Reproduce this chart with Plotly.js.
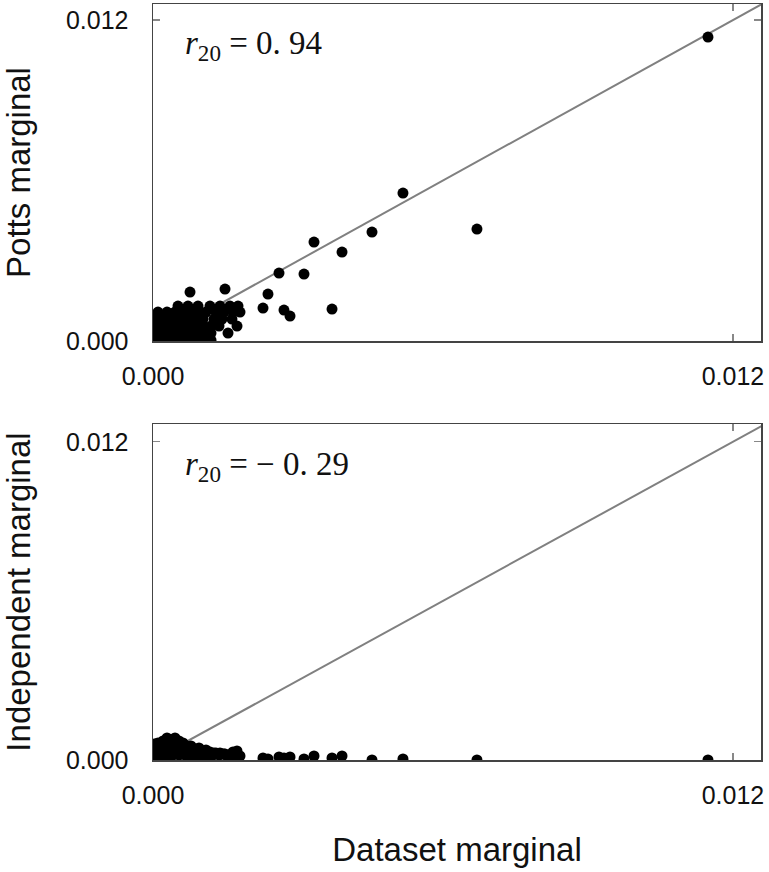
<!DOCTYPE html>
<html>
<head>
<meta charset="utf-8">
<script src="https://cdn.plot.ly/plotly-3.0.1.min.js"></script>
<style>html,body{margin:0;padding:0;background:#fff;}#chart{width:769px;height:872px;}</style>
</head>
<body>
<div id="chart"></div>
<script>
// Dataset marginal (shared x for both panels)
const datasetMarginal = [
  0.000041,0.000207,0.000372,0.000538,0.000703,0.000869,0.001035,0.001200,
  0.000041,0.000207,0.000372,0.000538,0.000703,0.000869,0.001035,0.001200,0.001552,
  0.000041,0.000207,0.000372,0.000538,0.000703,0.000869,0.001035,0.001200,0.001366,0.001738,
  0.000041,0.000207,0.000372,0.000538,0.000703,0.000869,0.001035,0.001262,0.001428,0.001634,
  0.000103,0.000290,0.000455,0.000621,0.000786,0.000952,0.001097,0.001303,0.001469,0.001655,0.001800,
  0.000517,0.000724,0.000931,0.001179,0.001386,0.001593,0.001759,
  0.000041,
  0.000766,0.001490,0.002276,0.002379,0.002607,0.002710,0.002835,0.003124,0.003331,
  0.003704,0.003911,0.004531,0.005172,0.006703,0.011483
];
// Potts model marginal
const pottsMarginal = [
  0.000037,0.000037,0.000037,0.000037,0.000037,0.000037,0.000037,0.000037,
  0.000299,0.000299,0.000299,0.000299,0.000299,0.000299,0.000299,0.000299,0.000299,
  0.000561,0.000561,0.000561,0.000561,0.000561,0.000561,0.000561,0.000561,0.000561,0.000561,
  0.000822,0.000822,0.000822,0.000822,0.000822,0.000822,0.000822,0.000822,0.000822,0.000822,
  0.001084,0.001084,0.001084,0.001084,0.001084,0.001084,0.001084,0.001084,0.001084,0.001084,0.001084,
  0.001308,0.001308,0.001308,0.001308,0.001308,0.001308,0.001308,
  0.000935,
  0.001832,0.001944,0.001234,0.001757,0.002542,0.001159,0.000935,0.002504,0.003701,
  0.001196,0.003327,0.004074,0.005532,0.004187,0.011364
];
// Independent model marginal
const independentMarginal = [
  0.000075,0.000151,0.000113,0.000189,0.000113,0.000151,0.000075,0.000113,
  0.000302,0.000377,0.000302,0.000377,0.000302,0.000226,0.000151,0.000189,0.000113,
  0.000452,0.000528,0.000566,0.000528,0.000415,0.000302,0.000264,0.000226,0.000189,0.000339,
  0.000603,0.000716,0.000754,0.000716,0.000528,0.000415,0.000339,0.000264,0.000226,0.000151,
  0.000641,0.000829,0.000829,0.000641,0.000528,0.000452,0.000377,0.000264,0.000226,0.000302,0.000151,
  0.000603,0.000490,0.000415,0.000302,0.000264,0.000189,0.000113,
  0.000566,
  0.000490,0.000226,0.000075,0.000038,0.000113,0.000075,0.000113,0.000038,0.000151,
  0.000075,0.000151,0.000000,0.000038,0.000000,0.000000
];
const tickValues = [0, 0.012];
const tickLabels = ["0.000", "0.012"];
const diagonal = [0, 0.0127];

const axisCommon = {
  range: [0, 0.01258],
  tickvals: tickValues, ticktext: tickLabels,
  ticks: 'inside', ticklen: 7, tickwidth: 1.2, tickcolor: '#888',
  showline: true, linecolor: '#444', linewidth: 1.5, mirror: 'ticks',
  showgrid: false, zeroline: false,
  tickfont: {family: 'Liberation Sans, Arial, sans-serif', size: 25, color: '#111'}
};

const traces = [
  {x: diagonal, y: diagonal, xaxis: 'x', yaxis: 'y', mode: 'lines', line: {color: '#808080', width: 2}, hoverinfo: 'skip', showlegend: false},
  {x: datasetMarginal, y: pottsMarginal, xaxis: 'x', yaxis: 'y', mode: 'markers', marker: {color: '#000', size: 11}, showlegend: false},
  {x: diagonal, y: diagonal, xaxis: 'x2', yaxis: 'y2', mode: 'lines', line: {color: '#808080', width: 2}, hoverinfo: 'skip', showlegend: false},
  {x: datasetMarginal, y: independentMarginal, xaxis: 'x2', yaxis: 'y2', mode: 'markers', marker: {color: '#000', size: 11}, showlegend: false}
];

const titleFont = {family: 'Liberation Sans, Arial, sans-serif', size: 33, color: '#111'};
const annFont = {family: 'Liberation Serif, Times New Roman, serif', size: 33, color: '#111'};

const layout = {
  width: 769, height: 872,
  margin: {l: 153, r: 8, t: 4, b: 112},
  paper_bgcolor: '#fff', plot_bgcolor: '#fff',
  xaxis: Object.assign({}, axisCommon, {domain: [0, 1], anchor: 'y', ticklabelstandoff: 12}),
  yaxis: Object.assign({}, axisCommon, {domain: [0.5542, 1], anchor: 'x', range: [0, 0.0126], ticklabelstandoff: 18,
    title: {text: 'Potts marginal', font: titleFont, standoff: 26}}),
  xaxis2: Object.assign({}, axisCommon, {domain: [0, 1], anchor: 'y2', ticklabelstandoff: 12,
    title: {text: 'Dataset marginal', font: titleFont, standoff: 30}}),
  yaxis2: Object.assign({}, axisCommon, {domain: [0, 0.4444], anchor: 'x2', range: [0, 0.01267], ticklabelstandoff: 18,
    title: {text: 'Independent marginal', font: titleFont, standoff: 26}}),
  annotations: [
    {xref: 'x', yref: 'y', x: 0.00062, y: 0.01106, xanchor: 'left', yanchor: 'middle', showarrow: false,
     text: '<i>r</i><sub>20</sub> = 0. 94', font: annFont},
    {xref: 'x2', yref: 'y2', x: 0.00062, y: 0.01105, xanchor: 'left', yanchor: 'middle', showarrow: false,
     text: '<i>r</i><sub>20</sub> = − 0. 29', font: annFont}
  ]
};

Plotly.newPlot('chart', traces, layout, {displayModeBar: false, staticPlot: true});
</script>
</body>
</html>
